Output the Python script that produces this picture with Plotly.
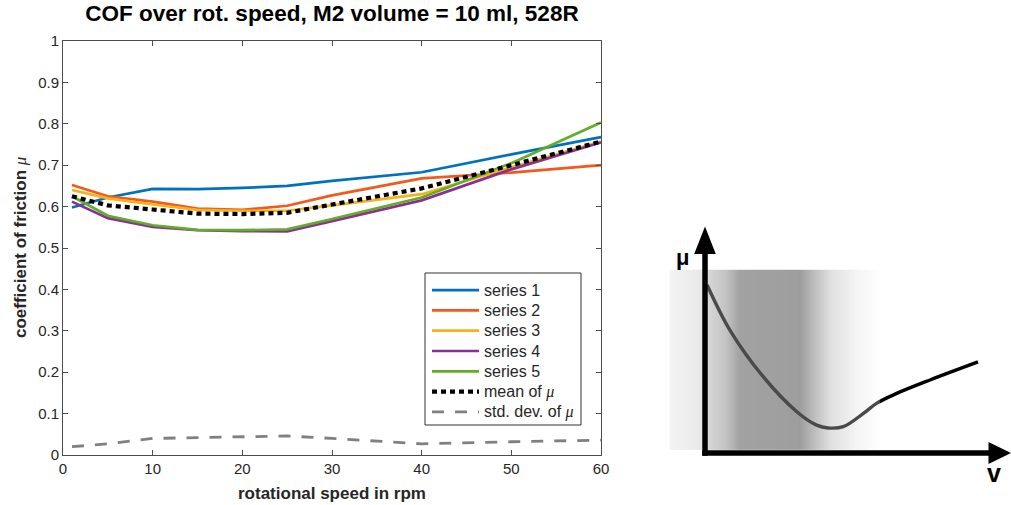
import numpy as np
import plotly.graph_objects as go

# ---------------- data ----------------
speed = [1, 5, 10, 15, 20, 25, 30, 40, 50, 60]
series_1 = [0.598, 0.622, 0.643, 0.642, 0.645, 0.650, 0.662, 0.683, 0.726, 0.768]
series_2 = [0.652, 0.625, 0.612, 0.595, 0.592, 0.602, 0.627, 0.668, 0.682, 0.700]
series_3 = [0.640, 0.620, 0.605, 0.592, 0.590, 0.590, 0.603, 0.630, 0.695, 0.757]
series_4 = [0.612, 0.572, 0.551, 0.543, 0.541, 0.540, 0.565, 0.615, 0.690, 0.755]
series_5 = [0.625, 0.578, 0.555, 0.544, 0.543, 0.545, 0.570, 0.622, 0.705, 0.803]
mean_mu = [0.625, 0.603, 0.593, 0.583, 0.582, 0.585, 0.605, 0.644, 0.700, 0.757]
std_mu = [0.020, 0.027, 0.040, 0.042, 0.044, 0.046, 0.040, 0.027, 0.032, 0.036]

series_names = ["series 1", "series 2", "series 3", "series 4", "series 5"]
series_colors = ["#0072BD", "#F2591A", "#F7B218", "#8A3094", "#62AD28"]
mu_html = "<span style='font-family:Liberation Serif'><i>\u03bc</i></span>"
mean_name = "mean of " + mu_html
std_name = "std. dev. of " + mu_html

x_ticks = [0, 10, 20, 30, 40, 50, 60]
y_ticks = [0, 0.1, 0.2, 0.3, 0.4, 0.5, 0.6, 0.7, 0.8, 0.9, 1]

# schematic Stribeck curve (normalised units v, mu)
curve_v = [0.007, 0.083, 0.194, 0.306, 0.372, 0.41, 0.461, 0.528, 0.573, 0.639, 0.75, 0.91]
curve_mu = [0.764, 0.559, 0.347, 0.188, 0.127, 0.114, 0.120, 0.180, 0.227, 0.271, 0.332, 0.414]

# background gradient stops (v position, apparent grey level 0-255)
grad_v = [-0.117, -0.116, -0.007, 0.01, 0.067, 0.117, 0.317, 0.367, 0.417, 0.50, 0.582, 0.583]
grad_level = [244, 244, 232, 216, 196, 162, 158, 192, 224, 244, 255, 255]
grad_mu = [0.014, 0.0141, 0.831, 0.832]
veil_alpha = 0.29   # white veil over the shaded zone (makes the curve grey there)

W, H = 1011, 505


def px_x(p):
    return p / W


def px_y(p):
    return 1 - p / H


fig = go.Figure()

all_series = [series_1, series_2, series_3, series_4, series_5]
for name, vals, col in zip(series_names, all_series, series_colors):
    fig.add_trace(go.Scatter(x=speed, y=vals, mode="lines", name=name,
                             line=dict(color=col, width=2.7), showlegend=False))

mean_line = dict(color="black", width=4.2, dash="5px,4px")
std_line = dict(color="#808080", width=2.8, dash="12px,11px")
fig.add_trace(go.Scatter(x=speed, y=mean_mu, mode="lines", name=mean_name,
                         line=mean_line, showlegend=False))
fig.add_trace(go.Scatter(x=speed, y=std_mu, mode="lines", name=std_name,
                         line=std_line, showlegend=False))

# ---------------- schematic on the right ----------------
base = 255 * veil_alpha
comp = [(g - base) / (1 - veil_alpha) for g in grad_level]
z = [comp for _ in grad_mu]
fig.add_trace(go.Heatmap(x=grad_v, y=grad_mu, z=z, zsmooth="best",
                         colorscale=[[0, "black"], [1, "white"]], zmin=0, zmax=255,
                         showscale=False, hoverinfo="skip",
                         xaxis="x2", yaxis="y2", showlegend=False))
fig.add_trace(go.Scatter(x=curve_v, y=curve_mu, mode="lines",
                         line=dict(color="black", width=3.4, shape="spline"),
                         xaxis="x2", yaxis="y2", showlegend=False, hoverinfo="skip"))

shapes = [
    # white veil over the shaded zone
    dict(type="rect", xref="x2", yref="y2", layer="above",
         x0=grad_v[0], x1=grad_v[-1], y0=grad_mu[0], y1=grad_mu[-1],
         fillcolor="rgba(255,255,255,%.3f)" % veil_alpha, line=dict(width=0)),
    # vertical axis
    dict(type="line", xref="x2", yref="y2", layer="above", x0=0, y0=-0.012, x1=0, y1=0.93,
         line=dict(color="black", width=5.5)),
    dict(type="path", xref="x2", yref="y2", layer="above", fillcolor="black",
         line=dict(width=0), path="M -0.036 0.905 L 0.036 0.905 L 0 1.03 Z"),
    # horizontal axis
    dict(type="line", xref="x2", yref="y2", layer="above", x0=-0.009, y0=0, x1=0.96, y1=0,
         line=dict(color="black", width=5.5)),
    dict(type="path", xref="x2", yref="y2", layer="above", fillcolor="black",
         line=dict(width=0), path="M 0.945 -0.05 L 0.945 0.05 L 1.02 0 Z"),
]

annotations = [
    dict(text="<b>\u03bc</b>", x=-0.075, y=0.89, xref="x2", yref="y2",
         xanchor="center", yanchor="middle",
         showarrow=False, font=dict(size=22, color="black", family="Liberation Sans")),
    dict(text="<b>v</b>", x=0.962, y=-0.092, xref="x2", yref="y2",
         xanchor="center", yanchor="middle",
         showarrow=False, font=dict(size=25, color="black", family="Liberation Sans")),
    dict(text="<b>rotational speed in rpm</b>", x=px_x(332), y=px_y(493),
         xref="paper", yref="paper", showarrow=False, xanchor="center", yanchor="middle",
         font=dict(size=17, color="#262626")),
    dict(text="<b>coefficient of friction </b>" + mu_html,
         x=px_x(20), y=px_y(248), xref="paper", yref="paper", showarrow=False,
         xanchor="center", yanchor="middle",
         textangle=-90, font=dict(size=17, color="#262626")),
]

# ---------------- legend (drawn in paper coordinates) ----------------
leg_left, leg_right, leg_top, leg_bottom = 425, 581, 273, 425
shapes.append(dict(type="rect", xref="paper", yref="paper",
                   x0=px_x(leg_left), x1=px_x(leg_right),
                   y0=px_y(leg_bottom), y1=px_y(leg_top),
                   fillcolor="white", line=dict(color="#333333", width=1), layer="above"))
leg_names = series_names + [mean_name, std_name]
leg_lines = [dict(color=c, width=2.7) for c in series_colors] + [mean_line, std_line]
row_step = (leg_bottom - leg_top - 10) / 7.0
for i, (nm, ln) in enumerate(zip(leg_names, leg_lines)):
    yc = leg_top + 7 + row_step * (i + 0.5)
    shapes.append(dict(type="line", xref="paper", yref="paper", layer="above",
                       x0=px_x(432), x1=px_x(479), y0=px_y(yc), y1=px_y(yc), line=ln))
    annotations.append(dict(text=nm, x=px_x(482), y=px_y(yc), xref="paper", yref="paper",
                            xanchor="left", yanchor="middle", showarrow=False,
                            font=dict(size=16, color="#262626")))

axis_common = dict(showgrid=False, zeroline=False, ticks="inside", ticklen=5,
                   tickwidth=1, tickcolor="#4d4d4d", linecolor="#4d4d4d",
                   linewidth=1, mirror="ticks", showline=True, automargin=False,
                   tickfont=dict(size=15, color="#262626"))

fig.update_layout(
    width=W, height=H,
    margin=dict(l=0, r=0, t=0, b=0, pad=0, autoexpand=False),
    paper_bgcolor="white", plot_bgcolor="white",
    showlegend=False,
    font=dict(family="Liberation Sans, Arial, sans-serif", color="#262626"),
    title=dict(text="<b>COF over rot. speed, M2 volume = 10 ml, 528R</b>",
               x=px_x(332), y=px_y(13), xanchor="center", yanchor="middle",
               xref="paper", yref="paper", font=dict(size=22.5, color="black")),
    xaxis=dict(domain=[px_x(63), px_x(601)], range=[0, 60], tickvals=x_ticks,
               anchor="y", **axis_common),
    yaxis=dict(domain=[px_y(455), px_y(41)], range=[0, 1], tickvals=y_ticks,
               anchor="x", **axis_common),
    xaxis2=dict(domain=[px_x(630), 1.0], range=[-0.25, 1.02], visible=False,
                anchor="y2", fixedrange=True, automargin=False),
    yaxis2=dict(domain=[0, px_y(220)], range=[-0.236, 1.059], visible=False,
                anchor="x2", fixedrange=True, automargin=False),
    shapes=shapes,
    annotations=annotations,
)

fig.write_html("out.html")
